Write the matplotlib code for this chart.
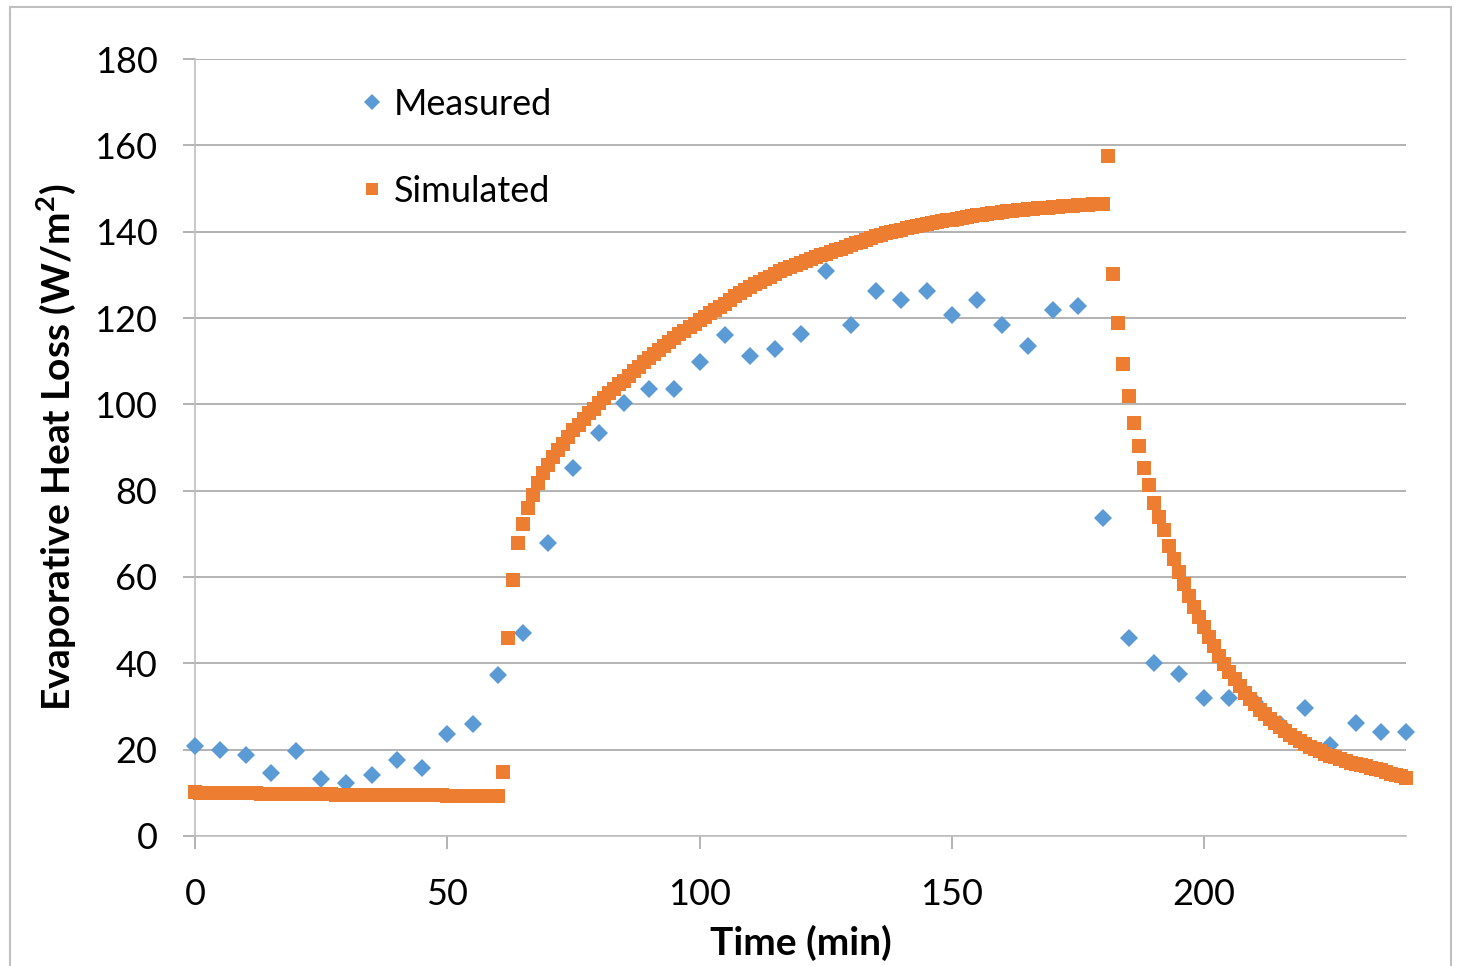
import numpy as np
import matplotlib.pyplot as plt
from matplotlib.patches import Rectangle

plt.rcParams['font.family'] = ['Lato', 'DejaVu Sans']

# Измеренные значения (каждые 5 минут)
measured_time = list(range(0, 241, 5))
measured_values = [20.8, 19.9, 18.8, 14.6, 19.7, 13.2, 12.3, 14.1, 17.6, 15.8,
                   23.6, 25.9, 37.3, 47.0, 67.9, 85.2, 93.4, 100.3, 103.5, 103.5,
                   109.8, 116.1, 111.2, 112.8, 116.3, 130.9, 118.4, 126.2, 124.2, 126.2,
                   120.7, 124.2, 118.4, 113.5, 121.8, 122.8, 73.7, 45.9, 40.1, 37.5,
                   32.0, 32.0, 31.0, 26.0, 29.6, 21.1, 26.2, 24.1, 24.1]

# Расчётные значения (каждую минуту, 0..240)
simulated_time = list(range(0, 241))
simulated_values = (
    [10.1] + [9.9] * 12 + [9.8] * 15 + [9.5] * 22 + [9.2] * 11 +
    [14.8, 45.9, 59.3, 67.8, 72.3, 75.9, 79.0, 81.7, 84.0, 85.9,
     87.7, 89.4, 90.9, 92.5, 94.0, 95.3, 96.7, 97.9, 99.0, 100.3,
     101.5, 102.6, 103.6, 104.6, 105.5, 106.6, 107.7, 108.7, 109.7, 110.7,
     111.7, 112.7, 113.6, 114.5, 115.4, 116.3, 117.1, 117.9, 118.7, 119.5,
     120.3, 121.1, 121.8, 122.6, 123.3, 124.2, 125.0, 125.7, 126.4, 127.1,
     127.8, 128.4, 129.0, 129.6, 130.2, 130.8, 131.3, 131.8, 132.3, 132.8,
     133.3, 133.7, 134.1, 134.5, 134.9, 135.3, 135.7, 136.1, 136.5, 136.9,
     137.3, 137.7, 138.1, 138.5, 138.9, 139.3, 139.6, 139.9, 140.2, 140.5,
     140.8, 141.0, 141.3, 141.5, 141.8, 142.0, 142.2, 142.4, 142.6, 142.8,
     143.0, 143.2, 143.4, 143.6, 143.8, 143.9, 144.1, 144.3, 144.4, 144.6,
     144.7, 144.9, 145.0, 145.1, 145.2, 145.3, 145.4, 145.5, 145.6, 145.7,
     145.8, 145.9, 146.0, 146.0, 146.1, 146.2, 146.2, 146.3, 146.4, 146.4,
     157.5, 130.2, 118.9, 109.3, 101.9, 95.6, 90.3, 85.2, 81.2, 77.2,
     74.0, 70.9, 67.2, 64.2, 61.2, 58.4, 55.7, 53.1, 50.7, 48.3,
     46.0, 43.9, 41.8, 39.8, 38.0, 36.3, 34.7, 33.2, 31.8, 30.5,
     29.3, 28.2, 27.1, 26.1, 25.2, 24.3, 23.5, 22.7, 22.0, 21.3,
     20.7, 20.1, 19.6, 19.1, 18.6, 18.2, 17.8, 17.4, 17.0, 16.7,
     16.4, 16.1, 15.8, 15.5, 15.2, 14.8, 14.4, 14.1, 13.8, 13.5]
)

blue = '#5B9BD5'
orange = '#ED7D31'
gray = '#A6A6A6'

fig = plt.figure(figsize=(14.61, 9.66), dpi=100)
ax = fig.add_axes([0.1335, 0.1346, 0.8289, 0.8043])

# рамка вокруг диаграммы
fig.patches.append(Rectangle((10 / 1461, -0.01), 1441 / 1461, 1.01 - 7 / 966,
                             transform=fig.transFigure, fill=False,
                             edgecolor='#BFBFBF', linewidth=1.5))

ax.plot(measured_time, measured_values, linestyle='none', marker='D',
        markersize=9.5, markeredgewidth=0, color=blue, label='Measured',
        clip_on=False, zorder=3)
ax.plot(simulated_time, simulated_values, linestyle='none', marker='s',
        markersize=10, markeredgewidth=0, color=orange, label='Simulated',
        clip_on=False, zorder=4)

ax.set_xlim(0, 240)
ax.set_ylim(0, 180)
ax.set_xticks([0, 50, 100, 150, 200])
ax.set_yticks(range(0, 181, 20))
ax.grid(True, axis='y', color=gray, linewidth=1.2)
ax.set_axisbelow(True)

for side in ['top', 'right']:
    ax.spines[side].set_visible(False)
for side in ['left', 'bottom']:
    ax.spines[side].set_color('#BFBFBF')
    ax.spines[side].set_linewidth(1.2)

ax.tick_params(axis='both', colors=gray, labelcolor='black', labelsize=26,
               length=9, width=1.2)
ax.tick_params(axis='y', pad=18)
ax.tick_params(axis='x', pad=21)

ax.set_xlabel('Time (min)', fontsize=28, fontweight='bold', labelpad=10)
ax.set_ylabel('Evaporative Heat Loss (W/m$^\\mathregular{2}$)', fontsize=28,
              fontweight='bold', labelpad=12)

leg = ax.legend(loc='upper left', bbox_to_anchor=(0.1387, 0.963), frameon=False,
                fontsize=26, handlelength=0.5, handletextpad=0.35,
                labelspacing=1.49, borderpad=0, borderaxespad=0, markerscale=0.85)

fig.savefig('out.png', dpi=100)
